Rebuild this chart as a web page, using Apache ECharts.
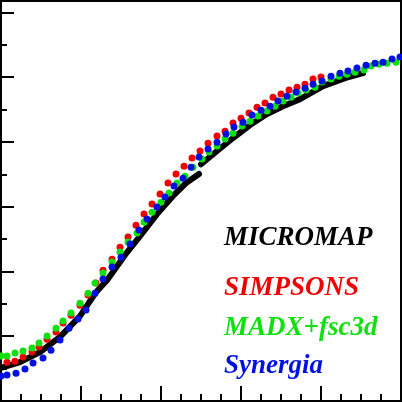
<html>
<head>
<meta charset="utf-8">
<script src="https://cdn.jsdelivr.net/npm/echarts@6.0.0/dist/echarts.min.js"></script>
<style>
  body { margin: 0; background: #fff; }
  #main { width: 402px; height: 402px; }
</style>
</head>
<body>
<div id="main"></div>
<script type="text/javascript">
// tick positions (no labels are printed on the reference)
var yMajorTicks = [0, 2, 4, 6, 8, 10, 12];
var yMinorTicks = [1, 3, 5, 7, 9, 11];

// MICROMAP, dense curve with a small jump near x = 10
var microX1 = [0, 0.95, 1.95, 2.95, 3.95, 4.75, 5.30, 6.20, 6.95, 7.80, 8.60, 9.25, 9.90];
var microY1 = [1.02, 1.20, 1.51, 1.98, 2.62, 3.36, 3.73, 4.51, 5.09, 5.77, 6.33, 6.73, 7.01];
var microX2 = [10.00, 10.80, 11.60, 12.45, 13.30, 14.10, 14.95, 16.10, 17.20, 18.10];
var microY2 = [7.31, 7.72, 8.12, 8.52, 8.86, 9.10, 9.32, 9.72, 9.97, 10.12];

// SIMPSONS
var simpX = [0.30, 0.70, 1.10, 1.55, 1.90, 2.30, 2.75, 3.10, 3.50, 3.95, 4.35, 4.75, 5.10, 5.55, 5.95,
  6.35, 6.75, 7.15, 7.55, 7.95, 8.35, 8.75, 9.15, 9.55, 9.95, 10.35, 10.80, 11.20, 11.60, 12.00,
  12.40, 12.80, 13.20, 13.60, 14.00, 14.40, 14.80, 15.20, 15.60, 16.00];
var simpY = [1.20, 1.23, 1.36, 1.51, 1.67, 1.91, 2.13, 2.41, 2.65, 2.96, 3.27, 3.64, 4.04, 4.38, 4.75,
  5.06, 5.43, 5.77, 6.08, 6.39, 6.73, 7.01, 7.25, 7.50, 7.72, 7.96, 8.18, 8.33, 8.58, 8.73,
  8.89, 9.07, 9.20, 9.38, 9.48, 9.60, 9.69, 9.78, 9.94, 10.00];

// MADX+fsc3d
var madxX = [0, 0.30, 0.70, 1.10, 1.55, 1.90, 2.30, 2.75, 3.10, 3.50, 3.95, 4.35, 4.70, 5.10, 5.55,
  5.95, 6.35, 6.80, 7.15, 7.55, 8.00, 8.40, 8.80, 9.20, 9.60, 10.05, 10.40, 10.80, 11.20, 11.60,
  12.05, 12.45, 12.85, 13.30, 13.70, 14.10, 14.50, 14.85, 15.25, 15.70, 16.05, 16.50, 16.90, 17.30,
  17.70, 18.15, 18.50, 18.90, 19.30, 19.75];
var madxY = [1.39, 1.39, 1.48, 1.54, 1.64, 1.79, 2.01, 2.25, 2.47, 2.72, 3.02, 3.33, 3.64, 3.95, 4.29,
  4.60, 4.91, 5.19, 5.52, 5.83, 6.14, 6.42, 6.73, 6.94, 7.22, 7.47, 7.69, 7.87, 8.09, 8.27,
  8.49, 8.64, 8.80, 8.95, 9.10, 9.26, 9.38, 9.51, 9.60, 9.69, 9.85, 9.94, 10.03, 10.09,
  10.15, 10.22, 10.34, 10.40, 10.43, 10.46];

// Synergia
var synX = [0, 0.30, 0.75, 1.20, 1.60, 2.10, 2.50, 2.95, 3.40, 3.85, 4.25, 4.70, 5.10, 5.55, 6.00,
  6.45, 6.90, 7.30, 7.80, 8.20, 8.65, 9.10, 9.50, 9.90, 10.35, 10.80, 11.25, 11.65, 12.10, 12.55,
  13.00, 13.45, 13.85, 14.30, 14.75, 15.20, 15.60, 16.05, 16.50, 16.95, 17.35, 17.80, 18.25, 18.70,
  19.10, 19.55, 19.95];
var synY = [0.77, 0.80, 0.86, 0.99, 1.17, 1.33, 1.57, 1.88, 2.25, 2.53, 2.81, 3.33, 3.77, 4.14, 4.44,
  4.85, 5.28, 5.62, 5.99, 6.30, 6.64, 6.88, 7.22, 7.53, 7.78, 7.99, 8.24, 8.46, 8.61, 8.83,
  8.98, 9.10, 9.26, 9.41, 9.54, 9.66, 9.78, 9.88, 10.03, 10.12, 10.19, 10.28, 10.37, 10.43,
  10.46, 10.56, 10.62];

var names = ['MICROMAP', 'SIMPSONS', 'MADX+fsc3d', 'Synergia'];
var colors = ['#000000', '#f00000', '#10e010', '#0010e0'];

function pairs(xs, ys) {
    var out = [];
    for (var i = 0; i < xs.length; i++) {
        out.push([xs[i], ys[i]]);
    }
    return out;
}

var myChart = echarts.init(document.getElementById('main'));

var labelFont = 'bold italic 27px "Liberation Serif", "DejaVu Serif", serif';
var labelY = [237, 287, 327, 365];

// series names written inside the plot, no legend symbols
var texts = [];
for (var k = 0; k < names.length; k++) {
    texts.push({
        type: 'text',
        left: 224,
        top: labelY[k] - 12,
        z: 10,
        style: { text: names[k], font: labelFont, fill: colors[k] }
    });
}

var tickStyle = { color: '#000', width: 2 };

myChart.setOption({
    animation: false,
    backgroundColor: '#fff',
    grid: {
        left: 1, right: 1, top: 1, bottom: 1,
        show: true, borderColor: '#000', borderWidth: 2
    },
    xAxis: {
        type: 'value',
        min: 0, max: 20, interval: 4,
        axisLine: { show: true, lineStyle: tickStyle },
        axisTick: { show: true, inside: true, length: 15, lineStyle: tickStyle },
        minorTick: { show: true, splitNumber: 4, length: 7, lineStyle: tickStyle },
        axisLabel: { show: false },
        splitLine: { show: false }
    },
    yAxis: [{
        type: 'value',
        min: 0, max: 12.35,
        axisLine: { show: true, lineStyle: tickStyle },
        axisTick: { show: true, inside: true, length: 13, lineStyle: tickStyle, customValues: yMajorTicks },
        axisLabel: { show: false, customValues: yMajorTicks },
        splitLine: { show: false }
    }, {
        type: 'value',
        position: 'left',
        min: 0, max: 12.35,
        axisLine: { show: false },
        axisTick: { show: true, inside: true, length: 6, lineStyle: tickStyle, customValues: yMinorTicks },
        axisLabel: { show: false, customValues: yMinorTicks },
        splitLine: { show: false }
    }],
    graphic: texts,
    series: [{
        name: names[0], type: 'line', data: pairs(microX1, microY1), z: 1,
        showSymbol: false, symbol: 'none',
        lineStyle: { color: colors[0], width: 6, cap: 'round', join: 'round' }
    }, {
        name: names[0], type: 'line', data: pairs(microX2, microY2), z: 1,
        showSymbol: false, symbol: 'none',
        lineStyle: { color: colors[0], width: 6, cap: 'round', join: 'round' }
    }, {
        name: names[1], type: 'scatter', data: pairs(simpX, simpY), z: 3,
        symbolSize: 7, itemStyle: { color: colors[1], opacity: 1 }
    }, {
        name: names[2], type: 'scatter', data: pairs(madxX, madxY), z: 4,
        symbolSize: 7, itemStyle: { color: colors[2], opacity: 1 }
    }, {
        name: names[3], type: 'scatter', data: pairs(synX, synY), z: 5,
        symbolSize: 7, itemStyle: { color: colors[3], opacity: 1 }
    }]
});
</script>
</body>
</html>
